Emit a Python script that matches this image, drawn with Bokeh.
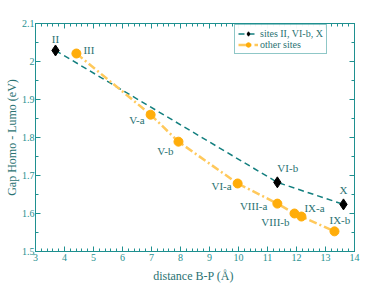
from bokeh.plotting import figure
from bokeh.models import (LinearAxis, SingleIntervalTicker, CustomJSTickFormatter,
                          Range1d, Legend, LegendItem, ColumnDataSource, LabelSet)
from bokeh.core.properties import value
from bokeh.embed import file_html
from bokeh.resources import INLINE

# ---- data ----
black_names = ["II", "VI-b", "X"]
black_x = [3.69, 11.34, 13.62]
black_y = [2.029, 1.682, 1.624]

orange_names = ["III", "V-a", "V-b", "VI-a", "VIII-a", "VIII-b", "IX-a", "IX-b"]
orange_x = [4.41, 6.97, 7.93, 9.97, 11.34, 11.93, 12.17, 13.31]
orange_y = [2.021, 1.860, 1.789, 1.679, 1.626, 1.600, 1.592, 1.553]

legend_labels = ["sites II, VI-b, X", "other sites"]
x_label = "distance B-P  (Å)"
y_label = "Gap Homo - Lumo (eV)"

# ---- label placement (styling) ----
black_dx = [0, 0, 0]
black_dy = [11, 14, 14]
black_align = ["center", "left", "center"]
orange_dx = [7, -6, -5, -6, -10, -5, 3, -5]
orange_dy = [4, -5, -9, -3, -2, -8, 9, 11]
orange_align = ["left", "right", "right", "right", "right", "right", "left", "left"]

AX = "#1f9090"
TXT = "#2a7272"
FONT = "Liberation Serif"

p = figure(width=368, height=285,
           output_backend="svg", toolbar_location=None,
           x_range=Range1d(3, 14), y_range=Range1d(1.5, 2.1),
           min_border_left=35, min_border_right=14, min_border_top=23, min_border_bottom=34)
p.background_fill_color = "white"
p.border_fill_color = "white"
p.outline_line_color = AX
p.grid.visible = False

def style_axis(ax, labels=True):
    ax.axis_line_color = AX
    ax.major_tick_line_color = AX
    ax.minor_tick_line_color = AX
    ax.major_tick_in = 5
    ax.major_tick_out = 0
    ax.minor_tick_in = 3
    ax.minor_tick_out = 0
    ax.major_label_text_font = FONT
    ax.major_label_text_color = AX
    ax.major_label_text_font_size = "10px"
    ax.major_label_standoff = 2
    ax.axis_label_text_font = FONT
    ax.axis_label_text_color = TXT
    ax.axis_label_text_font_size = "12px"
    ax.axis_label_text_font_style = "normal"
    ax.axis_label_standoff = 3
    if not labels:
        ax.formatter = CustomJSTickFormatter(code="return '';")
        ax.major_label_standoff = 0

fmt = CustomJSTickFormatter(code="return String(Math.round(tick*10)/10);")

p.xaxis.ticker = SingleIntervalTicker(interval=1, num_minor_ticks=5)
p.yaxis.ticker = SingleIntervalTicker(interval=0.1, num_minor_ticks=2)
p.yaxis.formatter = fmt
p.xaxis.axis_label = x_label
p.yaxis.axis_label = y_label
style_axis(p.xaxis[0])
style_axis(p.yaxis[0])
p.xaxis.axis_label_standoff = 5
p.yaxis.axis_label_standoff = 0
p.yaxis.major_label_standoff = 1

top = LinearAxis(ticker=SingleIntervalTicker(interval=1, num_minor_ticks=5))
right = LinearAxis(ticker=SingleIntervalTicker(interval=0.1, num_minor_ticks=2))
style_axis(top, labels=False)
style_axis(right, labels=False)
p.add_layout(top, "above")
p.add_layout(right, "right")

# lines
bl = p.line(black_x, black_y, line_color="#137f7f", line_width=1.5, line_dash="6 4")
ol = p.line(orange_x, orange_y, line_color="#ffc95c", line_width=2.5, line_dash="8 3 2 3")
bm = p.scatter(black_x, black_y, marker="diamond", size=11, fill_color="black", line_color="black")
om = p.scatter(orange_x, orange_y, marker="circle", size=9, fill_color="#ffad0a", line_color="#ffad0a")

# labels
bsrc = ColumnDataSource(dict(x=black_x, y=black_y, t=black_names, dx=black_dx, dy=black_dy, a=black_align))
osrc = ColumnDataSource(dict(x=orange_x, y=orange_y, t=orange_names, dx=orange_dx, dy=orange_dy, a=orange_align))
for src in (bsrc, osrc):
    p.add_layout(LabelSet(x="x", y="y", text="t", source=src, x_offset="dx", y_offset="dy",
                          text_align="a", text_baseline="middle",
                          text_font=value(FONT), text_font_size="11px", text_color=TXT))

legend = Legend(items=[LegendItem(label=legend_labels[0], renderers=[bl, bm]),
                       LegendItem(label=legend_labels[1], renderers=[ol, om])],
                location=(199, 197))
legend.border_line_color = AX
legend.border_line_width = 1.5
legend.label_text_font = FONT
legend.label_text_font_size = "10px"
legend.label_text_color = TXT
legend.glyph_height = 11
legend.glyph_width = 20
legend.label_standoff = 2
legend.spacing = 0
legend.padding = 3
legend.margin = 0
legend.label_height = 11
legend.background_fill_color = "white"
p.add_layout(legend)

open("out.html", "w").write(file_html(p, INLINE))
